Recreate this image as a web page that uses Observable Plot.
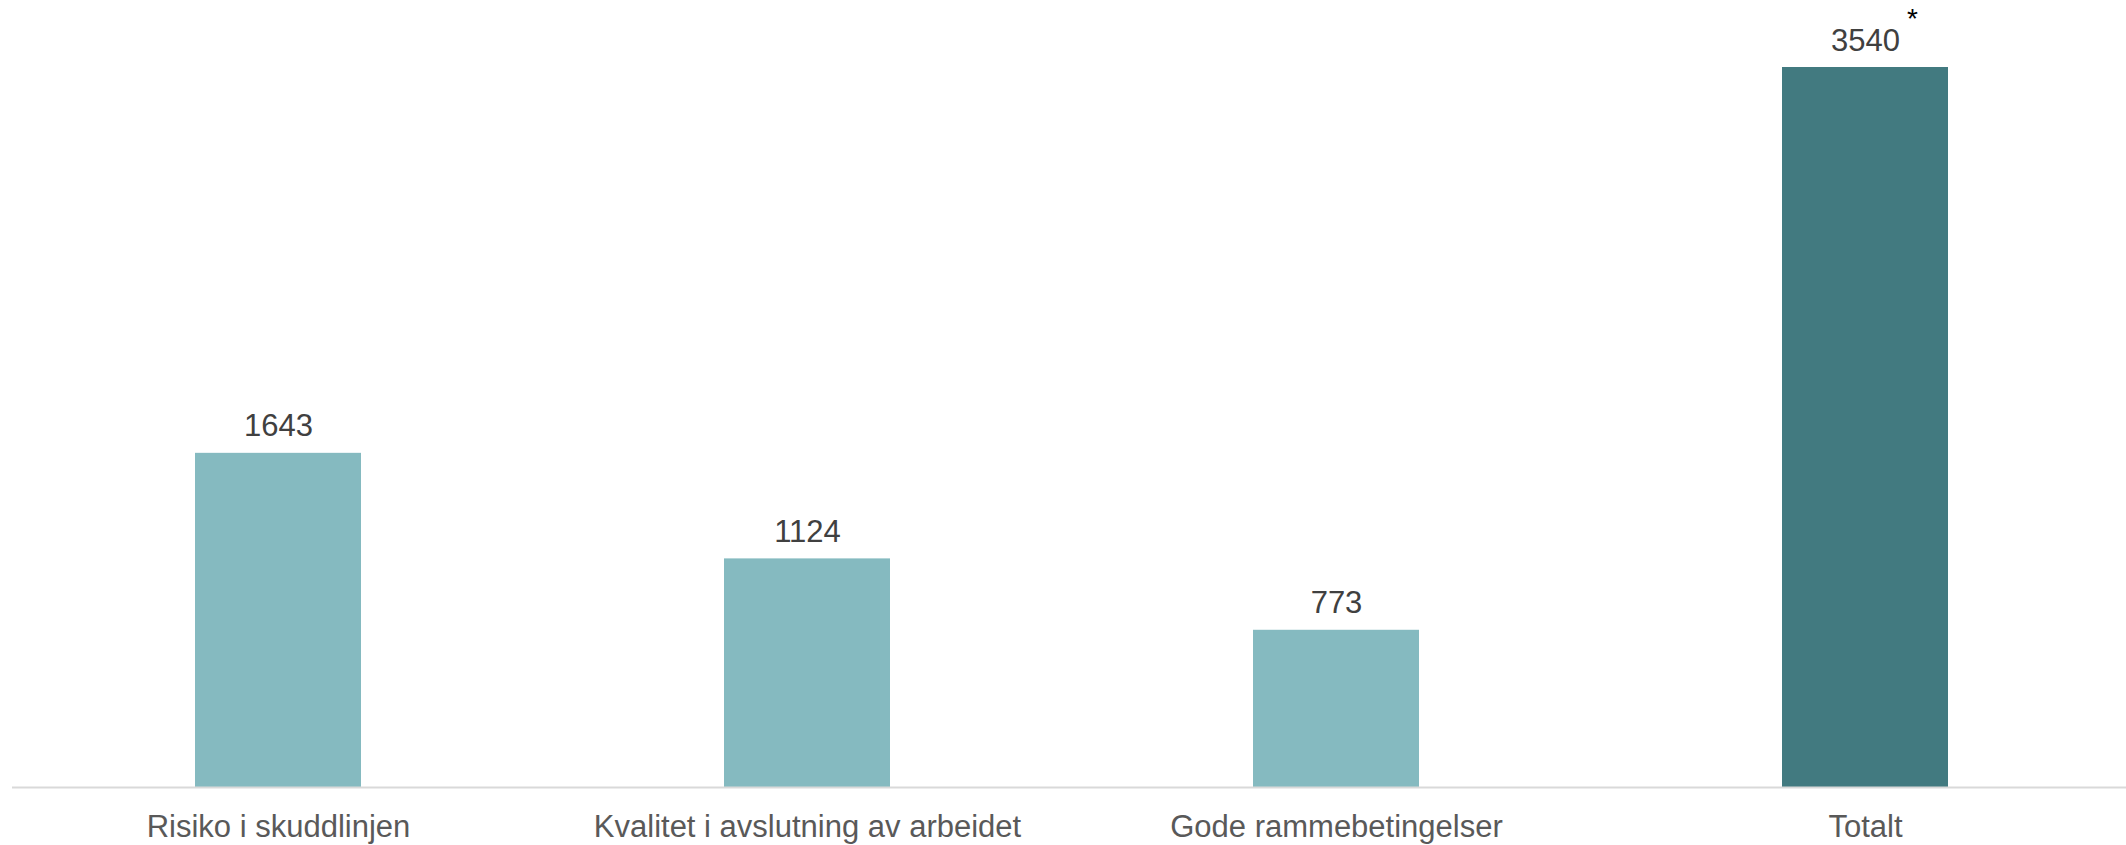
<!DOCTYPE html>
<html>
<head>
<meta charset="utf-8">
<script src="https://cdn.jsdelivr.net/npm/d3@7"></script>
<script src="https://cdn.jsdelivr.net/npm/@observablehq/plot@0.6"></script>
<style>
  html, body { margin: 0; padding: 0; background: #ffffff; }
  #chart svg { display: block; }
</style>
</head>
<body>
<div id="chart"></div>
<script>
const categories = ["Risiko i skuddlinjen", "Kvalitet i avslutning av arbeidet", "Gode rammebetingelser", "Totalt"];
const values = [1643, 1124, 773, 3540];
const isTotal = [false, false, false, true];
const labels = ["1643", "1124", "773", "3540"];
const notes = ["", "", "", "*"];

const data = categories.map((c, i) => ({category: c, value: values[i], total: isTotal[i], label: labels[i], note: notes[i]}));

const chart = Plot.plot({
  width: 2126,
  height: 845,
  marginLeft: 12,
  marginRight: 0,
  marginTop: 67,
  marginBottom: 58,
  style: {fontFamily: "'Liberation Sans', Arial, sans-serif", background: "#ffffff"},
  x: {domain: categories, range: [14, 2128], paddingInner: 0.687, paddingOuter: 0.338, label: null},
  y: {domain: [0, 3540], axis: null},
  marks: [
    Plot.barY(data, {x: "category", y: "value", fill: d => d.total ? "#427A80" : "#85BAC0"}),
    Plot.ruleY([0], {stroke: "#D9D9D9", strokeWidth: 2}),
    Plot.text(data, {x: "category", y: "value", text: "label", dy: -17, lineAnchor: "bottom", fontSize: 31, fill: "#404040"}),
    Plot.text(data.filter(d => d.note), {x: "category", y: "value", text: "note", dx: 47, dy: -48, lineAnchor: "middle", fontSize: 28, fill: "#000000"}),
    Plot.axisX({tickSize: 0, tickPadding: 27, fontSize: 31, color: "#595959", label: null})
  ]
});
document.getElementById("chart").appendChild(chart);
</script>
</body>
</html>
